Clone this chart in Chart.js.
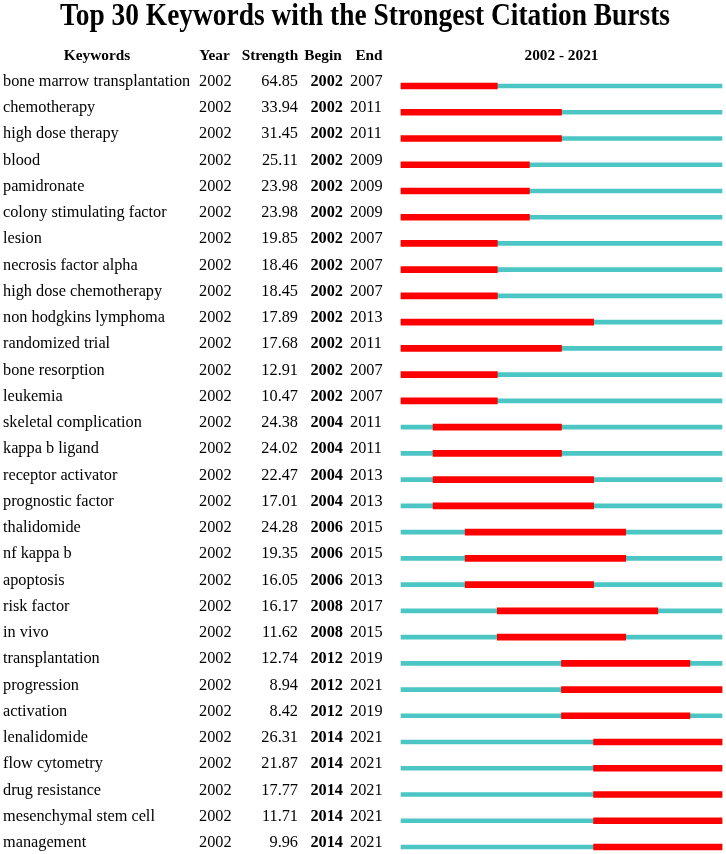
<!DOCTYPE html>
<html>
<head>
<meta charset="utf-8">
<title>Top 30 Keywords with the Strongest Citation Bursts</title>
<script src="https://cdn.jsdelivr.net/npm/chart.js@4.4.0/dist/chart.umd.min.js"></script>
<style>
  html, body { margin: 0; padding: 0; background: #fff; }
  canvas { display: block; }
</style>
</head>
<body>
<canvas id="burstChart" width="726" height="854"></canvas>
<script>
// Burst table data
const keywords = [
  "bone marrow transplantation", "chemotherapy", "high dose therapy", "blood",
  "pamidronate", "colony stimulating factor", "lesion", "necrosis factor alpha",
  "high dose chemotherapy", "non hodgkins lymphoma", "randomized trial",
  "bone resorption", "leukemia", "skeletal complication", "kappa b ligand",
  "receptor activator", "prognostic factor", "thalidomide", "nf kappa b",
  "apoptosis", "risk factor", "in vivo", "transplantation", "progression",
  "activation", "lenalidomide", "flow cytometry", "drug resistance",
  "mesenchymal stem cell", "management"
];
const years = keywords.map(() => 2002);
const strengths = [
  64.85, 33.94, 31.45, 25.11, 23.98, 23.98, 19.85, 18.46, 18.45, 17.89,
  17.68, 12.91, 10.47, 24.38, 24.02, 22.47, 17.01, 24.28, 19.35, 16.05,
  16.17, 11.62, 12.74, 8.94, 8.42, 26.31, 21.87, 17.77, 11.71, 9.96
];
const begins = [
  2002, 2002, 2002, 2002, 2002, 2002, 2002, 2002, 2002, 2002,
  2002, 2002, 2002, 2004, 2004, 2004, 2004, 2006, 2006, 2006,
  2008, 2008, 2012, 2012, 2012, 2014, 2014, 2014, 2014, 2014
];
const ends = [
  2007, 2011, 2011, 2009, 2009, 2009, 2007, 2007, 2007, 2013,
  2011, 2007, 2007, 2011, 2011, 2013, 2013, 2015, 2015, 2013,
  2017, 2015, 2019, 2021, 2019, 2021, 2021, 2021, 2021, 2021
];
const timeline = [2002, 2021];

const TITLE = "Top 30 Keywords with the Strongest Citation Bursts";
const SERIF = '"Liberation Serif", "Times New Roman", serif';

// a burst covers whole years, so the bar runs to the start of end + 1
const burstSpans = begins.map((b, i) => [b, ends[i] + 1]);
const fullSpans = keywords.map(() => [timeline[0], timeline[1] + 1]);

const tablePlugin = {
  id: "burstTable",
  afterDraw(chart) {
    const { ctx, chartArea, scales } = chart;
    ctx.save();
    ctx.fillStyle = "#000";

    // title, squeezed horizontally like the original figure
    ctx.font = `bold 31px ${SERIF}`;
    ctx.textBaseline = "alphabetic";
    ctx.textAlign = "left";
    const tw = ctx.measureText(TITLE).width;
    const targetW = 610;
    ctx.save();
    ctx.translate(365 - targetW / 2, 25);
    ctx.scale(targetW / tw, 1);
    ctx.fillText(TITLE, 0, 0);
    ctx.restore();

    // header row
    const headY = 60;
    ctx.font = `bold 15.3px ${SERIF}`;
    ctx.textAlign = "center";
    ctx.fillText("Keywords", 97, headY);
    ctx.fillText("Year", 214.5, headY);
    ctx.fillText("Strength", 270, headY);
    ctx.fillText("Begin", 323, headY);
    ctx.fillText("End", 369, headY);
    ctx.fillText(`${timeline[0]} - ${timeline[1]}`,
      (chartArea.left + chartArea.right) / 2, headY);

    // body rows, aligned to the bar rows of the y scale
    const body = `16.3px ${SERIF}`;
    keywords.forEach((kw, i) => {
      const y = scales.y.getPixelForValue(i);
      ctx.font = body;
      ctx.textAlign = "left";
      ctx.fillText(kw, 3, y);
      ctx.fillText(String(years[i]), 199, y);
      ctx.textAlign = "right";
      ctx.fillText(strengths[i].toFixed(2), 298, y);
      ctx.font = `bold ${body}`;
      ctx.fillText(String(begins[i]), 343, y);
      ctx.font = body;
      ctx.textAlign = "left";
      ctx.fillText(String(ends[i]), 350, y);
    });
    ctx.restore();
  },
};

new Chart(document.getElementById("burstChart"), {
  type: "bar",
  data: {
    labels: keywords,
    datasets: [
      {
        label: "Burst",
        data: burstSpans,
        backgroundColor: "#FF0000",
        barThickness: 6,
        grouped: false,
        borderSkipped: false,
        clip: false,
        order: 0,
      },
      {
        label: "Timeline",
        data: fullSpans,
        backgroundColor: "#4CC5C5",
        barThickness: 4,
        grouped: false,
        borderSkipped: false,
        clip: false,
        order: 1,
      },
    ],
  },
  options: {
    indexAxis: "y",
    responsive: false,
    animation: false,
    layout: { padding: { left: 401, right: 4, top: 86, bottom: 7 } },
    plugins: {
      legend: { display: false },
      tooltip: { enabled: false },
    },
    scales: {
      x: {
        type: "linear",
        min: timeline[0],
        max: timeline[1] + 1,
        display: false,
      },
      y: {
        type: "category",
        offset: false,
        display: false,
      },
    },
  },
  plugins: [tablePlugin],
});
</script>
</body>
</html>
